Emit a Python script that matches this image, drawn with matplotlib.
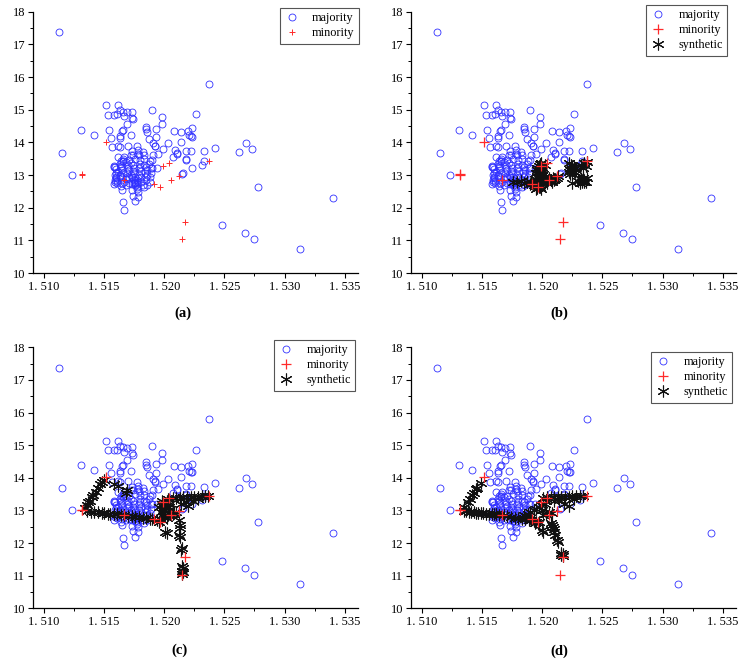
import matplotlib
matplotlib.use("Agg")
import matplotlib.pyplot as plt
from matplotlib.ticker import MultipleLocator

plt.rcParams['font.family'] = ['Liberation Serif', 'DejaVu Serif']

# ---------------- data ----------------
maj_ri = [1.5113, 1.5115, 1.5123, 1.5131, 1.5142, 1.5237, 1.5226, 1.5268, 1.5262, 1.5273,
          1.5278, 1.5340, 1.5248, 1.5267, 1.5275, 1.5313, 1.5242, 1.5233, 1.5233, 1.5231,
          1.5223, 1.5216, 1.5215, 1.5223, 1.5220, 1.5221, 1.5222, 1.5223, 1.5218, 1.5222,
          1.5218, 1.5218, 1.5214, 1.5214, 1.5208, 1.5203, 1.5209, 1.5211, 1.5211, 1.5207,
          1.5199, 1.5195, 1.5191, 1.5190, 1.5194, 1.5190, 1.5198, 1.5198, 1.5193, 1.5193,
          1.5192, 1.5192, 1.5191, 1.5185, 1.5185, 1.5186, 1.5187, 1.5173, 1.5169, 1.5173,
          1.5174, 1.5172, 1.5169, 1.5166, 1.5165, 1.5162, 1.5152, 1.5153, 1.5158, 1.5161,
          1.5166, 1.5167, 1.5163, 1.5154, 1.5156, 1.5163, 1.5163, 1.5162, 1.5163, 1.5157,
          1.5170, 1.5173, 1.5177, 1.5178,
          1.5158, 1.5158, 1.5160, 1.5159, 1.5159, 1.5158, 1.5162, 1.5164, 1.5166, 1.5166,
          1.5167, 1.5164, 1.5163, 1.5165, 1.5168, 1.5169, 1.5170, 1.5172, 1.5172, 1.5174,
          1.5175, 1.5176, 1.5176, 1.5177, 1.5177, 1.5178, 1.5179, 1.5180, 1.5180, 1.5181,
          1.5181, 1.5182, 1.5183, 1.5185, 1.5186, 1.5186, 1.5185, 1.5188, 1.5189, 1.5188,
          1.5183, 1.5161, 1.5173, 1.5171, 1.5173, 1.5178, 1.5166, 1.5167, 1.5176, 1.5174,
          1.5165,
          1.5159, 1.5160, 1.5159, 1.5160, 1.5161, 1.5160, 1.5163, 1.5164, 1.5165, 1.5166,
          1.5165, 1.5167, 1.5168, 1.5164, 1.5166, 1.5168, 1.5171, 1.5170, 1.5171, 1.5172,
          1.5171, 1.5174, 1.5175, 1.5175, 1.5176, 1.5176, 1.5177, 1.5178, 1.5179, 1.5179,
          1.5180, 1.5181, 1.5182, 1.5183, 1.5184, 1.5185, 1.5183, 1.5176, 1.5174, 1.5178,
          1.5187, 1.5189, 1.5190, 1.5188, 1.5186, 1.5177, 1.5178, 1.5175, 1.5173, 1.5169,
          1.5162, 1.5163]
maj_na = [17.38, 13.68, 13.00, 14.39, 14.24, 15.79, 14.86, 13.99, 13.70, 13.80,
          12.64, 12.30, 11.46, 11.23, 11.03, 10.73, 13.84, 13.72, 13.43, 13.31,
          13.21, 13.06, 13.04, 14.43, 14.36, 14.21, 14.19, 14.17, 13.74, 13.74,
          13.50, 13.47, 14.33, 14.02, 14.36, 13.97, 13.78, 13.66, 13.63, 13.54,
          13.80, 13.65, 13.62, 13.46, 13.21, 14.99, 14.77, 14.55, 14.41, 14.15,
          13.90, 13.88, 13.97, 14.47, 14.40, 14.32, 14.09, 14.94, 14.92, 14.75,
          14.70, 14.22, 14.55, 14.38, 14.36, 15.13, 15.14, 14.85, 14.85, 14.86,
          14.93, 14.80, 14.98, 14.38, 14.14, 14.20, 14.14, 13.90, 13.87, 13.87,
          13.90, 13.72, 13.88, 13.76,
          13.29, 13.26, 13.06, 12.85, 12.79, 12.72, 13.55, 13.43, 13.42, 13.44,
          13.56, 13.21, 12.97, 12.75, 12.88, 13.06, 13.21, 13.36, 13.62, 13.12,
          12.85, 12.80, 12.77, 12.73, 12.63, 12.49, 13.61, 13.46, 13.26, 13.11,
          12.95, 13.70, 13.48, 13.26, 13.16, 13.00, 12.85, 13.43, 13.21, 12.93,
          12.62, 12.77, 12.95, 12.75, 12.53, 12.34, 12.16, 11.93, 12.20, 12.36,
          12.55,
          13.25, 13.18, 13.00, 12.90, 12.82, 12.95, 13.35, 13.28, 13.15, 13.05,
          12.92, 12.80, 12.70, 12.65, 13.50, 13.40, 13.45, 13.30, 13.15, 13.00,
          12.90, 13.30, 13.20, 13.05, 12.95, 12.68, 12.58, 12.90, 13.00, 13.20,
          13.35, 12.80, 12.70, 13.30, 13.05, 12.95, 13.60, 13.50, 13.62, 13.65,
          13.35, 13.05, 13.20, 12.80, 12.70, 12.85, 12.78, 12.75, 12.72, 12.95,
          13.10, 13.00]

min_ri = [1.51915, 1.52171, 1.52151, 1.51969, 1.51666, 1.51994, 1.52369,
          1.51316, 1.51321, 1.52043, 1.52058, 1.52119, 1.51514]
min_na = [12.73, 11.56, 11.03, 12.64, 12.86, 13.27, 13.44,
          13.02, 13.00, 13.38, 12.85, 12.97, 14.01]

syn_b_ri = [1.5195, 1.5196, 1.5197, 1.5198, 1.5196, 1.5197, 1.5198, 1.5196, 1.5197, 1.5198,
            1.5197, 1.5198, 1.5199, 1.5197, 1.5198, 1.5199, 1.5195, 1.5199, 1.5193, 1.5192,
            1.5194, 1.5200, 1.5201, 1.5200, 1.5201, 1.5200, 1.5202, 1.5194, 1.5195, 1.5196,
            1.5190, 1.5191, 1.5196, 1.5198, 1.5197, 1.5199, 1.5196, 1.5198, 1.5200, 1.5199,
            1.5176, 1.5179, 1.5182, 1.5185, 1.5187, 1.5203, 1.5205, 1.5207, 1.5209, 1.5210,
            1.5212, 1.5213, 1.5204, 1.5206, 1.5208, 1.5211, 1.5203,
            1.5222, 1.5223, 1.5224, 1.5225, 1.5226, 1.5227, 1.5224, 1.5222, 1.5226, 1.5228,
            1.5223, 1.5225, 1.5227, 1.5224,
            1.5230, 1.5232, 1.5233, 1.5235, 1.5236, 1.5234, 1.5231, 1.5237, 1.5233, 1.5235,
            1.5225, 1.5235, 1.5234, 1.5237, 1.5232, 1.5236]
syn_b_na = [12.65, 12.70, 12.62, 12.68, 12.76, 12.82, 12.88, 12.94, 13.00, 13.06,
            13.12, 13.18, 13.24, 13.28, 13.34, 13.38, 12.58, 12.58, 12.70, 12.75,
            12.80, 12.72, 12.78, 12.90, 13.02, 13.15, 13.30, 12.88, 13.05, 13.20,
            12.72, 12.78, 12.60, 12.64, 12.74, 12.96, 13.14, 13.10, 13.24, 12.84,
            12.80, 12.78, 12.82, 12.76, 12.80, 12.82, 12.86, 12.84, 12.90, 12.86,
            12.92, 12.97, 12.76, 12.92, 12.78, 12.88, 12.95,
            13.10, 13.16, 13.22, 13.12, 13.18, 13.08, 13.30, 13.36, 13.26, 13.14,
            13.04, 13.28, 13.20, 13.14,
            12.82, 12.88, 12.80, 12.86, 12.78, 12.92, 12.76, 12.90, 12.84, 12.80,
            12.77, 13.36, 13.22, 13.40, 13.32, 13.28]

syn_c_ri = [1.5134, 1.5136, 1.5137, 1.5138, 1.5140, 1.5141, 1.5143, 1.5145, 1.5147, 1.5148,
            1.5150, 1.5158, 1.5162, 1.5169, 1.5168,
            1.5136, 1.5139, 1.5142, 1.5145, 1.5148, 1.5150, 1.5153, 1.5155, 1.5158, 1.5161,
            1.5164, 1.5167, 1.5170, 1.5173, 1.5176, 1.5179, 1.5182, 1.5185, 1.5188, 1.5190,
            1.5194, 1.5196, 1.5198, 1.5199, 1.5200, 1.5201, 1.5200, 1.5201, 1.5202, 1.5203,
            1.5204, 1.5205, 1.5205, 1.5197, 1.5196, 1.5198, 1.5203, 1.5207, 1.5208, 1.5210,
            1.5199, 1.5202, 1.5204, 1.5198, 1.5201,
            1.5207, 1.5210, 1.5213, 1.5216, 1.5219, 1.5222, 1.5225, 1.5228, 1.5231, 1.5234,
            1.5236, 1.5214, 1.5218, 1.5220, 1.5224, 1.5228,
            1.5212, 1.5213, 1.5213, 1.5212, 1.5213, 1.5215, 1.5214, 1.5215, 1.5216, 1.5215,
            1.5216, 1.5215, 1.5202, 1.5201]
syn_c_na = [13.08, 13.18, 13.25, 13.30, 13.40, 13.48, 13.55, 13.68, 13.80, 13.86,
            13.94, 13.81, 13.75, 13.63, 13.53,
            12.98, 12.96, 12.95, 12.94, 12.93, 12.92, 12.90, 12.90, 12.88, 12.88,
            12.86, 12.85, 12.84, 12.82, 12.80, 12.80, 12.78, 12.77, 12.75, 12.74,
            12.70, 12.66, 12.72, 12.82, 12.92, 13.02, 13.12, 13.22, 13.30, 13.35,
            13.20, 13.05, 12.90, 12.95, 13.10, 13.20, 12.85, 12.88, 12.93, 12.95,
            13.00, 12.78, 13.12, 13.28, 12.86,
            13.38, 13.38, 13.39, 13.40, 13.40, 13.41, 13.42, 13.42, 13.43, 13.44,
            13.44, 13.20, 13.25, 13.15, 13.30, 13.35,
            12.70, 12.55, 12.45, 12.25, 12.20, 11.85, 11.80, 11.30, 11.25, 11.15,
            11.10, 11.05, 12.30, 12.33]

syn_d_ri = [1.5135, 1.5138, 1.5140, 1.5142, 1.5143, 1.5145, 1.5146, 1.5149,
            1.5135, 1.5137, 1.5139, 1.5141, 1.5143, 1.5145, 1.5147, 1.5149, 1.5151, 1.5153,
            1.5156, 1.5158, 1.5160, 1.5162, 1.5164,
            1.5168, 1.5171, 1.5174, 1.5177, 1.5180, 1.5183, 1.5186, 1.5189, 1.5191, 1.5193,
            1.5195, 1.5197, 1.5185, 1.5188, 1.5190, 1.5193, 1.5195, 1.5197, 1.5199, 1.5200,
            1.5201, 1.5203, 1.5202, 1.5203, 1.5201, 1.5204, 1.5206, 1.5208, 1.5194, 1.5201,
            1.5200,
            1.5207, 1.5210, 1.5213, 1.5216, 1.5219, 1.5222, 1.5225, 1.5228, 1.5231, 1.5234,
            1.5210, 1.5214, 1.5218, 1.5222, 1.5226,
            1.5207, 1.5208, 1.5209, 1.5210, 1.5210, 1.5211, 1.5212, 1.5213, 1.5216, 1.5217,
            1.5217, 1.5216]
syn_d_na = [13.12, 13.25, 13.35, 13.48, 13.52, 13.65, 13.70, 13.85,
            12.98, 12.97, 12.96, 12.95, 12.94, 12.93, 12.93, 12.92, 12.91, 12.90,
            12.90, 12.89, 12.88, 12.88, 12.87,
            12.85, 12.82, 12.80, 12.78, 12.76, 12.75, 12.74, 12.72, 12.70, 12.68,
            12.66, 12.64, 12.85, 12.90, 12.95, 13.00, 13.05, 13.10, 13.18, 13.00,
            12.85, 12.90, 13.20, 13.30, 13.38, 13.42, 12.95, 12.92, 12.60, 12.35,
            12.40,
            13.40, 13.40, 13.41, 13.41, 13.42, 13.42, 13.43, 13.43, 13.44, 13.44,
            13.30, 13.32, 13.20, 13.15, 13.35,
            12.62, 12.55, 12.50, 12.42, 12.35, 12.25, 12.10, 12.03, 11.70, 11.65,
            11.60, 11.62]

x_ticks = [1.510, 1.515, 1.520, 1.525, 1.530, 1.535]
x_tick_labels = ['1. 510', '1. 515', '1. 520', '1. 525', '1. 530', '1. 535']
y_ticks = [10, 11, 12, 13, 14, 15, 16, 17, 18]
panel_labels = ['(a)', '(b)', '(c)', '(d)']
synthetic_sets = [None, (syn_b_ri, syn_b_na), (syn_c_ri, syn_c_na), (syn_d_ri, syn_d_na)]

# ---------------- figure ----------------
W, H = 747, 663
fig = plt.figure(figsize=(W / 100, H / 100), dpi=100)

# axes rectangles in pixel coords: left, top(18), right, bottom(10)
rects = [(33, 11.7, 358, 273), (411, 11.7, 736, 273),
         (33, 347.3, 358, 608.3), (411, 347.3, 736, 608.3)]
legend_anchor = [(1.003, 1.014), (0.973, 1.026), (0.991, 1.028), (0.989, 0.982)]
label_pos = [(183, 313), (559, 313), (180, 650), (559, 651)]

for i, (l, t, r, b) in enumerate(rects):
    ax = fig.add_axes([l / W, 1 - b / H, (r - l) / W, (b - t) / H])
    ax.plot(maj_ri, maj_na, linestyle='none', marker='o', markersize=5.0,
            markerfacecolor='none', markeredgecolor='#3030ff', markeredgewidth=0.6,
            label='majority')
    big = i > 0
    if synthetic_sets[i] is not None:
        sx, sy = synthetic_sets[i]
        ax.plot(sx, sy, linestyle='none', marker=(6, 2, 0), markersize=8.5,
                color='#111111', markeredgewidth=0.8, label='synthetic', zorder=3)
    ax.plot(min_ri, min_na, linestyle='none', marker='+',
            markersize=7.5 if big else 5, markeredgewidth=0.9 if big else 0.7,
            color='#ff2a2a', label='minority', zorder=4)

    ax.set_xlim(1.5091, 1.5361)
    ax.set_ylim(10, 18)
    ax.set_xticks(x_ticks, x_tick_labels)
    ax.set_yticks(y_ticks)
    ax.xaxis.set_minor_locator(MultipleLocator(0.0025))
    ax.yaxis.set_minor_locator(MultipleLocator(0.5))
    ax.tick_params(which='major', direction='out', length=3.5, width=0.8,
                   labelsize=9, pad=2)
    ax.tick_params(which='minor', direction='out', length=2, width=0.7)
    for s in ('top', 'right'):
        ax.spines[s].set_visible(False)
    for s in ('left', 'bottom'):
        ax.spines[s].set_linewidth(0.9)

    handles, labels = ax.get_legend_handles_labels()
    order = ['majority', 'minority', 'synthetic']
    hl = sorted(zip(handles, labels), key=lambda p: order.index(p[1]))
    leg = ax.legend([h for h, _ in hl], [lab for _, lab in hl],
                    loc='upper right', bbox_to_anchor=legend_anchor[i],
                    fontsize=8.8, frameon=True, fancybox=False, framealpha=1,
                    edgecolor='#555555', borderpad=0.35, labelspacing=0.25,
                    handlelength=1.3, handletextpad=1.0, borderaxespad=0)
    leg.get_frame().set_linewidth(0.8)

    fx, fy = label_pos[i]
    fig.text(fx / W, 1 - fy / H, panel_labels[i], ha='center', va='center',
             fontsize=10.5, fontweight='bold')

fig.savefig('out.png', dpi=100)
